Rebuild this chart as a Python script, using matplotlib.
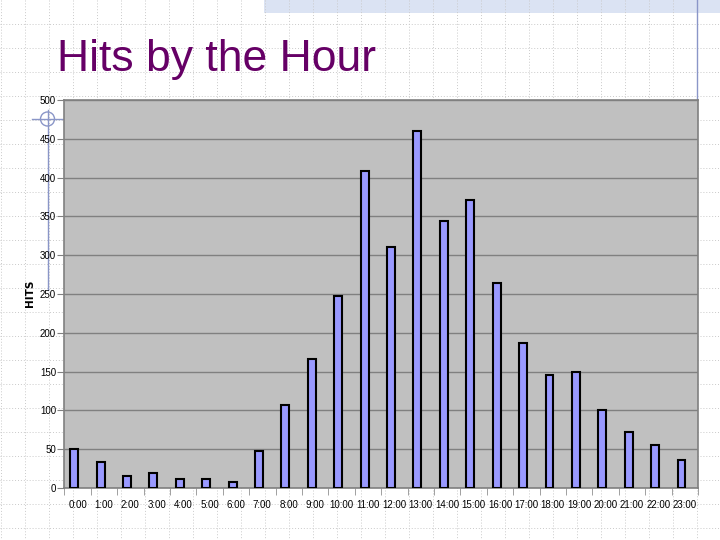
import numpy as np
import matplotlib
matplotlib.use("Agg")
import matplotlib.pyplot as plt
from matplotlib.patches import Rectangle, Circle
from matplotlib.lines import Line2D

# ---- data ----
hours = [f"{h}:00" for h in range(24)]
hits = [50, 34, 15, 19, 11, 11, 8, 48, 107, 166, 248, 409,
        310, 460, 344, 371, 264, 187, 145, 149, 101, 72, 55, 36]
y_ticks = [0, 50, 100, 150, 200, 250, 300, 350, 400, 450, 500]
title = "Hits by the Hour"
y_label = "HITS"

W, H = 720, 540
fig = plt.figure(figsize=(7.2, 5.4), dpi=100)
fig.patch.set_facecolor("white")

# ---- slide background (pixel coordinates) ----
bg = fig.add_axes([0, 0, 1, 1], zorder=0)
bg.set_xlim(0, W)
bg.set_ylim(H, 0)
bg.axis("off")
for gx in np.arange(0.7, W, 24):
    bg.add_line(Line2D([gx, gx], [0, H], color="#cacaca", lw=0.7,
                       ls=(0, (1, 2))))
for gy in np.arange(24, H, 24):
    bg.add_line(Line2D([0, W], [gy, gy], color="#cacaca", lw=0.7,
                       ls=(0, (1, 2))))
bg.add_patch(Rectangle((264, 0), W - 264, 12.5, facecolor="#dbe3f3",
                       edgecolor="none", lw=0))
bg.add_line(Line2D([696.5, 696.5], [0, 100], color="#8a96c8", lw=1))
bg.add_line(Line2D([32, 64], [119, 119], color="#8a96c8", lw=1))
bg.add_line(Line2D([47.5, 47.5], [110, 290], color="#8a96c8", lw=1))
bg.add_patch(Circle((47.5, 119), 7, facecolor="none", edgecolor="#8a96c8",
                    lw=1))

fig.text(57 / W, 1 - 71 / H, title, fontsize=32, color="#660066",
         family="Liberation Sans", va="baseline", ha="left")

# ---- chart ----
left, right, top, bottom = 64.3, 698, 100, 488
ax = fig.add_axes([left / W, 1 - bottom / H, (right - left) / W,
                   (bottom - top) / H], zorder=2)
ax.set_facecolor("#c0c0c0")
x = np.arange(len(hours))
ax.bar(x - 0.125, hits, width=0.3, color="#9999ff", edgecolor="black",
       linewidth=1.5, zorder=3)
ax.set_xlim(-0.5, len(hours) - 0.5)
ax.set_ylim(0, 500)
ax.set_yticks(y_ticks)
ax.set_yticklabels([str(v) for v in y_ticks])
ax.set_xticks(x)
ax.set_xticklabels(hours)
ax.set_xticks(np.arange(-0.5, len(hours), 1), minor=True)
ax.tick_params(axis="x", which="major", length=0, pad=9, labelsize=7)
ax.tick_params(axis="x", which="minor", length=5, color="#909090",
               direction="out")
ax.tick_params(axis="y", length=5, color="#808080", pad=1, labelsize=7)
for lab in ax.get_xticklabels() + ax.get_yticklabels():
    lab.set_family("Liberation Sans")
ax.yaxis.grid(True, color="#808080", lw=1)
ax.set_axisbelow(True)
for s in ax.spines.values():
    s.set_color("#808080")
    s.set_linewidth(1.2)

fig.text(30.5 / W, 1 - 293 / H, y_label, rotation=90, fontsize=7.5,
         fontweight="bold", ha="center", va="center",
         family="DejaVu Sans")

fig.savefig("out.png", dpi=100)
